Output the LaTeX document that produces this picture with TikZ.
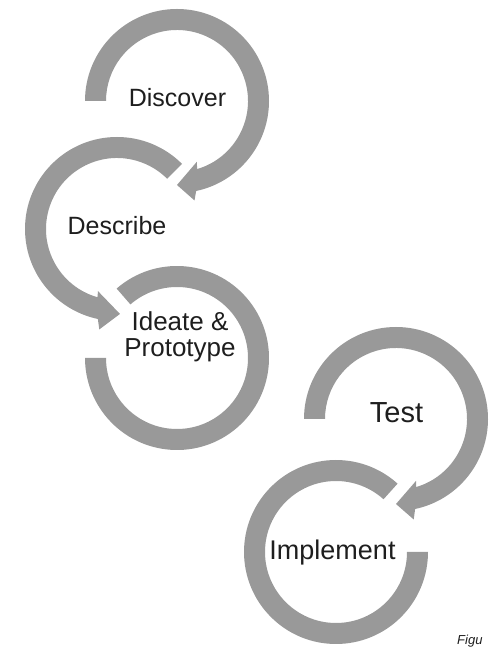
\documentclass[tikz,border=0pt]{standalone}
\usepackage{fontspec}
\setmainfont{Liberation Sans}
\definecolor{ringgray}{RGB}{153,153,153}
\definecolor{labelgray}{RGB}{30,30,30}
\begin{document}
\begin{tikzpicture}[x=1pt,y=1pt,
  ring/.style={fill=ringgray},
  stage/.style={text=labelgray, inner sep=0pt, anchor=base},
]
\clip (0,0) rectangle (491,648);
\fill[white] (0,0) rectangle (491,648);

% ring centres
\coordinate (cDisc) at (177,547);
\coordinate (cDesc) at (117,419);
\coordinate (cIdea) at (177,290);
\coordinate (cTest) at (396,229);
\coordinate (cImpl) at (336,96);

% Discover: clockwise from the left, arrow head at the bottom
\fill[ring] ([shift={(180:92)}]cDisc) arc[start angle=180, end angle=-78, radius=92]
  -- ([shift={(-80:101)}]cDisc) -- ([shift={(-90:84)}]cDisc)
  -- ([shift={(-72:64)}]cDisc) -- ([shift={(-73.5:71)}]cDisc)
  arc[start angle=-73.5, end angle=180, radius=71] -- cycle;

% Describe: counter-clockwise from the upper right, arrow head at the bottom
\fill[ring] ([shift={(45:92)}]cDesc) arc[start angle=45, end angle=258, radius=92]
  -- ([shift={(260:102)}]cDesc) -- ([shift={(272:85)}]cDesc)
  -- ([shift={(253:65)}]cDesc) -- ([shift={(254:71)}]cDesc)
  arc[start angle=254, end angle=45, radius=71] -- cycle;

% Ideate & Prototype: open ring, no head
\fill[ring] ([shift={(131:92)}]cIdea) arc[start angle=131, end angle=-180, radius=92]
  -- ([shift={(180:71)}]cIdea)
  arc[start angle=-180, end angle=131, radius=71] -- cycle;

% Test: clockwise from the left, arrow head at the bottom
\fill[ring] ([shift={(180:92)}]cTest) arc[start angle=180, end angle=-78, radius=92]
  -- ([shift={(-80:102)}]cTest) -- ([shift={(-90:85)}]cTest)
  -- ([shift={(-72:65)}]cTest) -- ([shift={(-73.5:71)}]cTest)
  arc[start angle=-73.5, end angle=180, radius=71] -- cycle;

% Implement: open ring, no head
\fill[ring] ([shift={(48:92)}]cImpl) arc[start angle=48, end angle=360, radius=92]
  -- ([shift={(0:71)}]cImpl)
  arc[start angle=360, end angle=48, radius=71] -- cycle;

% stage labels
\node[stage, font=\fontsize{25}{25}\selectfont] (discover) at (177.5,541) {Discover};
\node[stage, font=\fontsize{25}{25}\selectfont] (describe) at (117,413) {Describe};
\node[stage, align=center, font=\fontsize{26}{26}\selectfont] (ideate) at (180,291) {Ideate \&\\Prototype};
\node[stage, font=\fontsize{29}{29}\selectfont] (test) at (396.5,225) {Test};
\node[stage, font=\fontsize{27}{27}\selectfont] (implement) at (332.5,88) {Implement};

% caption in the lower right corner
\node[stage, anchor=base west, font=\fontsize{13}{13}\selectfont\itshape] (caption) at (457,3.5) {Figu};
\end{tikzpicture}
\end{document}
